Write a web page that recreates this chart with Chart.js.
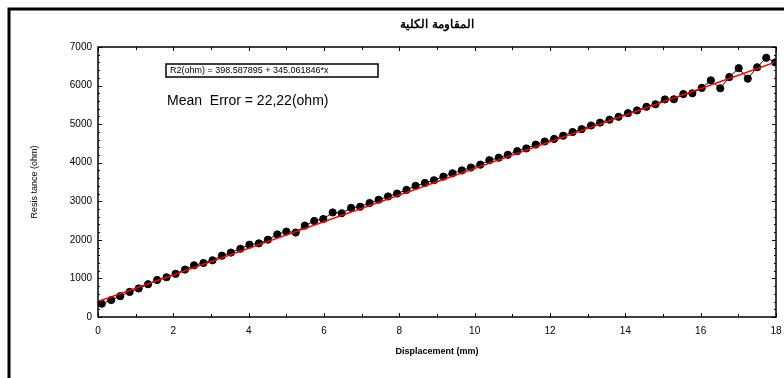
<!DOCTYPE html>
<html>
<head>
<meta charset="utf-8">
<script src="https://cdn.jsdelivr.net/npm/chart.js@4"></script>
<style>
  html, body { margin: 0; padding: 0; background: #fff; }
  #wrap { position: relative; width: 784px; height: 378px; }
</style>
</head>
<body>
<div id="wrap"><canvas id="chart" width="784" height="378"></canvas></div>
<script>
// measured data (displacement in mm, resistance in ohm)
const displacement = [
  0.10, 0.35, 0.59, 0.84, 1.08, 1.33, 1.57, 1.82, 2.06, 2.31,
  2.55, 2.80, 3.04, 3.29, 3.53, 3.78, 4.02, 4.27, 4.51, 4.76,
  5.00, 5.25, 5.49, 5.74, 5.98, 6.23, 6.47, 6.72, 6.96, 7.21,
  7.45, 7.70, 7.94, 8.19, 8.43, 8.68, 8.92, 9.17, 9.41, 9.66,
  9.90, 10.15, 10.39, 10.64, 10.88, 11.13, 11.37, 11.62, 11.86, 12.11,
  12.35, 12.60, 12.84, 13.09, 13.33, 13.58, 13.82, 14.07, 14.31, 14.56,
  14.80, 15.05, 15.29, 15.54, 15.78, 16.03, 16.27, 16.52, 16.76, 17.01,
  17.25, 17.50, 17.74, 17.98
];
const resistance = [
  343, 440, 540, 650, 740, 850, 960, 1030, 1120, 1230,
  1340, 1400, 1470, 1590, 1670, 1770, 1875, 1910, 2005, 2140,
  2215, 2190, 2370, 2490, 2540, 2710, 2690, 2830, 2860, 2956,
  3040, 3125, 3200, 3295, 3400, 3475, 3546, 3640, 3725, 3800,
  3875, 3950, 4065, 4130, 4205, 4300, 4370, 4470, 4550, 4617,
  4700, 4796, 4870, 4965, 5040, 5115, 5190, 5285, 5355, 5450,
  5515, 5640, 5645, 5780, 5800, 5940, 6135, 5930, 6220, 6450,
  6180, 6475, 6720, 6600
];
// fitted line R2 = 398.587895 + 345.061846*x, end points
const fitX = [0, 18];
const fitY = [398.6, 6609.7];

const xTicks = [0, 2, 4, 6, 8, 10, 12, 14, 16, 18];
const yTicks = [0, 1000, 2000, 3000, 4000, 5000, 6000, 7000];

const TITLE      = 'المقاومة الكلية';
const X_TITLE    = 'Displacement (mm)';
const Y_TITLE    = 'Resis tance (ohm)';
const EQUATION   = 'R2(ohm) = 398.587895 + 345.061846*x';
const MEAN_ERROR = 'Mean  Error = 22,22(ohm)';

const FONT = '"Liberation Sans", Arial, sans-serif';

// Page frame, titles, annotation box and inward tick marks.
const decorPlugin = {
  id: 'decor',
  beforeDraw(chart) {
    const { ctx } = chart;
    ctx.save();
    ctx.fillStyle = '#fff';
    ctx.fillRect(0, 0, chart.width, chart.height);
    ctx.strokeStyle = '#000';
    ctx.lineWidth = 3;
    ctx.beginPath();
    ctx.moveTo(9, chart.height);
    ctx.lineTo(9, 9);
    ctx.lineTo(chart.width, 9);
    ctx.stroke();
    ctx.restore();
  },
  afterDraw(chart) {
    const { ctx, chartArea: a } = chart;
    const xs = chart.scales.x, ys = chart.scales.y;
    ctx.save();
    ctx.strokeStyle = '#000';
    ctx.lineWidth = 1.5;
    ctx.strokeRect(a.left, a.top, a.right - a.left, a.bottom - a.top);

    ctx.lineWidth = 1;
    ctx.beginPath();
    for (let v = 0; v <= 18; v += 1) {
      const px = Math.round(xs.getPixelForValue(v)) + 0.5;
      const len = v % 2 === 0 ? 4 : 3;
      ctx.moveTo(px, a.bottom); ctx.lineTo(px, a.bottom - len);
      ctx.moveTo(px, a.top);    ctx.lineTo(px, a.top + len);
    }
    for (let v = 0; v <= 7000; v += 200) {
      const py = Math.round(ys.getPixelForValue(v)) + 0.5;
      const len = v % 1000 === 0 ? 4 : 2;
      ctx.moveTo(a.left, py);  ctx.lineTo(a.left + len, py);
      ctx.moveTo(a.right, py); ctx.lineTo(a.right - len, py);
    }
    ctx.stroke();

    const cx = (a.left + a.right) / 2;
    ctx.fillStyle = '#000';
    ctx.textAlign = 'center';
    ctx.textBaseline = 'middle';
    ctx.font = 'bold 12px ' + FONT;
    ctx.fillText(TITLE, cx, 25);
    ctx.font = 'bold 9px ' + FONT;
    ctx.fillText(X_TITLE, cx, 352);

    ctx.save();
    ctx.translate(35, (a.top + a.bottom) / 2);
    ctx.rotate(-Math.PI / 2);
    ctx.font = '9px ' + FONT;
    ctx.fillText(Y_TITLE, 0, 0);
    ctx.restore();

    // equation box
    ctx.lineWidth = 1.5;
    ctx.strokeRect(166, 64, 212, 13);
    ctx.textAlign = 'left';
    ctx.font = '9px ' + FONT;
    ctx.fillText(EQUATION, 170, 71);
    ctx.font = '14px ' + FONT;
    ctx.fillText(MEAN_ERROR, 167, 101);
    ctx.restore();
  },
};

new Chart(document.getElementById('chart'), {
  type: 'scatter',
  data: {
    datasets: [
      {
        data: fitX.map((x, i) => ({ x, y: fitY[i] })),
        showLine: true,
        borderColor: '#ff0000',
        borderWidth: 1.5,
        pointRadius: 0,
        order: 0,
      },
      {
        data: displacement.map((x, i) => ({ x, y: resistance[i] })),
        showLine: true,
        borderColor: '#000',
        borderWidth: 1,
        backgroundColor: '#000',
        pointBackgroundColor: '#000',
        pointBorderColor: '#000',
        pointRadius: 3.6,
        order: 1,
      },
    ],
  },
  options: {
    responsive: false,
    animation: false,
    layout: { padding: { top: 47, right: 8, left: 0, bottom: 0 } },
    plugins: { legend: { display: false }, tooltip: { enabled: false } },
    scales: {
      x: {
        type: 'linear',
        min: 0, max: 18,
        afterBuildTicks: s => { s.ticks = xTicks.map(value => ({ value })); },
        afterFit: s => { s.height = 61; s.paddingRight = 0; s.paddingLeft = 0; },
        grid: { display: false, drawTicks: false },
        border: { display: false },
        ticks: { color: '#000', font: { family: FONT, size: 10 }, padding: 8, maxRotation: 0 },
      },
      y: {
        type: 'linear',
        min: 0, max: 7000,
        afterBuildTicks: s => { s.ticks = yTicks.map(value => ({ value })); },
        afterFit: s => { s.width = 98; s.paddingTop = 0; s.paddingBottom = 0; },
        grid: { display: false, drawTicks: false },
        border: { display: false },
        ticks: { color: '#000', font: { family: FONT, size: 10 }, padding: 6, callback: v => String(v) },
      },
    },
  },
  plugins: [decorPlugin],
});
</script>
</body>
</html>
